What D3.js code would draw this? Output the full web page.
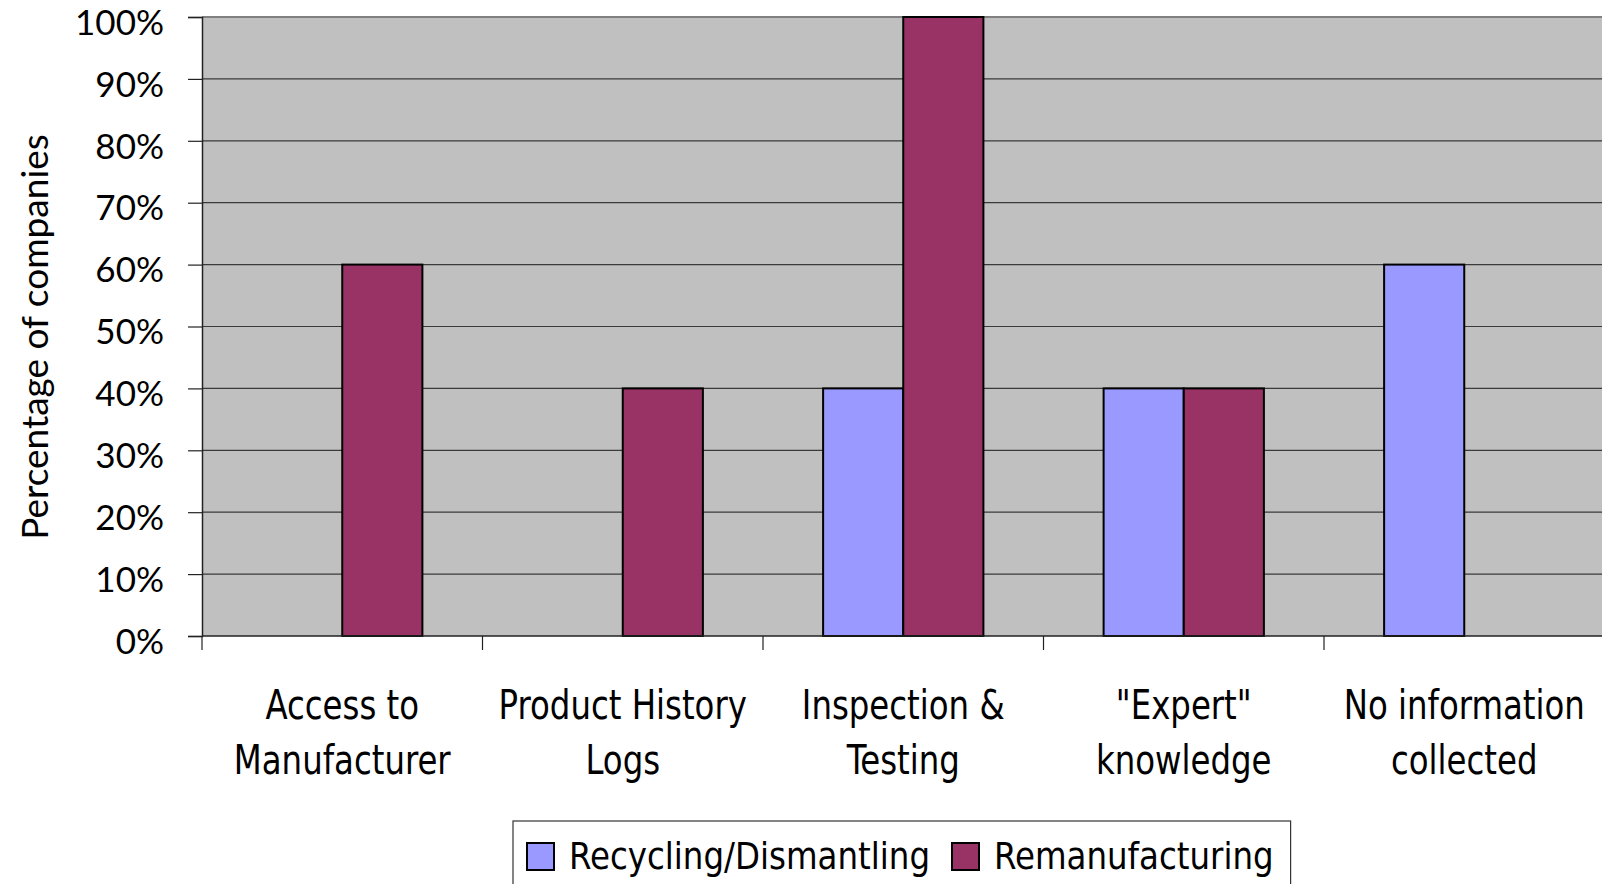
<!DOCTYPE html>
<html lang="en">
<head>
    <meta charset="utf-8">
    <style>
        body { margin: 0; background: #fff; overflow: hidden; }
        svg { display: block; }
        .cond { font-family: "Liberation Sans Narrow", "DejaVu Sans Condensed", "DejaVu Sans", sans-serif; font-stretch: condensed; }
        .yLab { font-family: Lato, "Open Sans", sans-serif; }
    </style>
</head>
<body>
    <svg width="1602" height="884"></svg>
    <script src="https://cdn.jsdelivr.net/npm/d3@7"></script>
    <script>
        // Data
        const categories = [
            ["Access to", "Manufacturer"],
            ["Product History", "Logs"],
            ["Inspection &", "Testing"],
            ["\"Expert\"", "knowledge"],
            ["No information", "collected"]
        ];
        const seriesNames = ["Recycling/Dismantling", "Remanufacturing"];
        const recycling = [0, 0, 40, 40, 60];
        const remanufacturing = [60, 40, 100, 40, 0];
        const yTicks = [0, 10, 20, 30, 40, 50, 60, 70, 80, 90, 100];
        const colors = ["#9999FF", "#993366"];

        const svg = d3.select("svg");

        const plotLeft = 202, plotTop = 17, plotBottom = 636;
        const bandW = 280.5;
        const plotRight = plotLeft + bandW * categories.length;

        const keys = categories.map((c, i) => i);
        const xScale = d3.scaleBand().domain(keys).range([plotLeft, plotRight]).padding(0);
        const yScale = d3.scaleLinear().domain([0, 100]).range([plotBottom, plotTop]);

        /************************************************************************
        * Plot area + grid
        ************************************************************************/
        svg.append("rect")
            .attr("x", plotLeft).attr("y", plotTop)
            .attr("width", plotRight - plotLeft).attr("height", plotBottom - plotTop)
            .attr("fill", "#C0C0C0");

        svg.append("g").selectAll("line")
            .data(yTicks.filter(t => t > 0 && t < 100))
            .join("line")
            .attr("x1", plotLeft).attr("x2", plotRight)
            .attr("y1", d => yScale(d)).attr("y2", d => yScale(d))
            .attr("stroke", "#3a3a3a").attr("stroke-width", 1.2);

        // top border of plot area
        svg.append("line")
            .attr("x1", plotLeft).attr("x2", plotRight)
            .attr("y1", yScale(100)).attr("y2", yScale(100))
            .attr("stroke", "#808080").attr("stroke-width", 2);

        /************************************************************************
        * Bars
        ************************************************************************/
        const barW = xScale.bandwidth() / 3.5;
        const barData = [];
        keys.forEach(i => {
            [recycling[i], remanufacturing[i]].forEach((v, s) => {
                if (v > 0) barData.push({ cat: i, s: s, value: v });
            });
        });
        svg.append("g").selectAll("rect")
            .data(barData)
            .join("rect")
            .attr("x", d => xScale(d.cat) + xScale.bandwidth() / 2 + (d.s - 1) * barW)
            .attr("y", d => yScale(d.value))
            .attr("width", barW)
            .attr("height", d => yScale(0) - yScale(d.value))
            .attr("fill", d => colors[d.s])
            .attr("stroke", "#000")
            .attr("stroke-width", 2);

        /************************************************************************
        * Axes
        ************************************************************************/
        const yAxis = svg.append("g")
            .attr("transform", `translate(${plotLeft},0)`)
            .call(d3.axisLeft(yScale).tickValues(yTicks).tickSize(14).tickPadding(24)
                .tickFormat(d => d + "%"));
        yAxis.select(".domain").attr("stroke", "#222").attr("stroke-width", 1.5);
        yAxis.selectAll(".tick line").attr("stroke", "#222").attr("stroke-width", 1.2);
        yAxis.selectAll("text")
            .attr("class", "yLab")
            .attr("font-size", 35)
            .attr("y", 6)
            .attr("fill", "#000");

        // x axis line + ticks at band boundaries
        svg.append("line")
            .attr("x1", plotLeft).attr("x2", plotRight)
            .attr("y1", plotBottom).attr("y2", plotBottom)
            .attr("stroke", "#222").attr("stroke-width", 1.5);
        svg.append("g").selectAll("line")
            .data(keys)
            .join("line")
            .attr("x1", d => xScale(d)).attr("x2", d => xScale(d))
            .attr("y1", plotBottom).attr("y2", plotBottom + 14)
            .attr("stroke", "#222").attr("stroke-width", 1.2);

        // category labels (two lines), squeezed a little to look condensed
        const catLabels = svg.append("g").selectAll("text")
            .data(keys)
            .join("text")
            .attr("class", "cond")
            .attr("text-anchor", "middle")
            .attr("font-size", 40)
            .attr("fill", "#000")
            .attr("transform", d => `translate(${xScale(d) + xScale.bandwidth() / 2},0) scale(0.9,1)`);
        catLabels.each(function(d) {
            const t = d3.select(this);
            categories[d].forEach((line, j) => {
                t.append("tspan").attr("x", 0).attr("y", 719 + j * 55).text(line);
            });
        });

        // y axis title
        svg.append("text")
            .attr("class", "yLab")
            .attr("transform", `translate(48, 337) rotate(-90)`)
            .attr("text-anchor", "middle")
            .attr("font-size", 37)
            .attr("fill", "#000")
            .text("Percentage of companies");

        /************************************************************************
        * Legend
        ************************************************************************/
        const legend = svg.append("g");
        const legendBox = legend.append("rect")
            .attr("y", 821).attr("height", 100)
            .attr("fill", "#fff").attr("stroke", "#333").attr("stroke-width", 1.2);
        const sx = 0.95;
        let lx = 527, textEnd = 0;
        seriesNames.forEach((name, i) => {
            legend.append("rect")
                .attr("x", lx).attr("y", 843)
                .attr("width", 27).attr("height", 27)
                .attr("fill", colors[i]).attr("stroke", "#000").attr("stroke-width", 2);
            const txt = legend.append("text")
                .attr("class", "cond")
                .attr("transform", `translate(${lx + 42},869) scale(${sx},1)`)
                .attr("font-size", 38)
                .attr("fill", "#000")
                .text(name);
            textEnd = lx + 42 + txt.node().getComputedTextLength() * sx;
            lx = textEnd + 22;
        });
        legendBox.attr("x", 513).attr("width", textEnd + 17 - 513);
    </script>
</body>
</html>
